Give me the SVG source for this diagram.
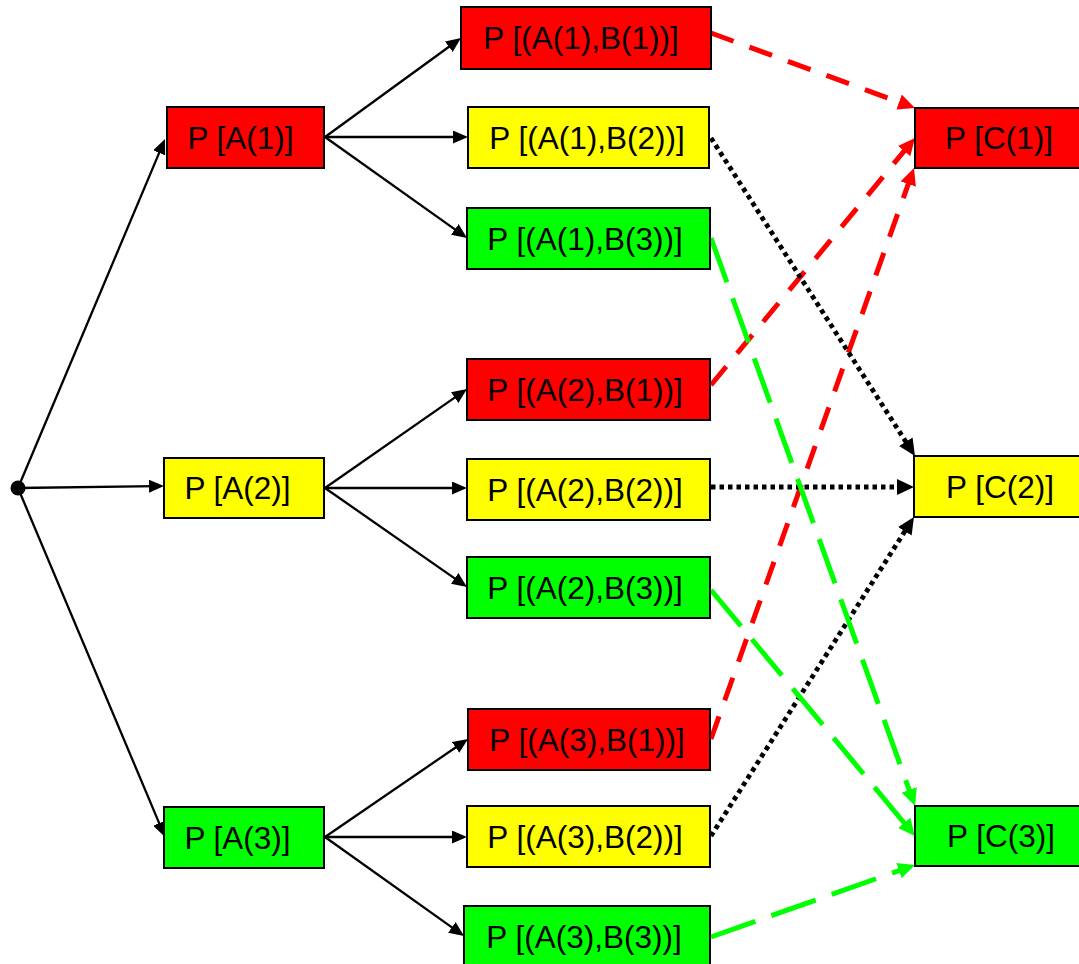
<svg xmlns="http://www.w3.org/2000/svg" width="1079" height="964" viewBox="0 0 1079 964">
<style>
.box{stroke:#000;stroke-width:2}
.r{fill:#FF0000}.y{fill:#FFFF00}.g{fill:#00FF00}
text{font-family:"Liberation Sans",Arial,sans-serif;font-size:31.5px;fill:#000;text-anchor:middle}
.sol{stroke:#000;stroke-width:2.3;fill:none;marker-end:url(#ak)}
.rd{stroke:#FF0000;stroke-width:5;fill:none;stroke-dasharray:24 17;marker-end:url(#ar)}
.kd{stroke:#000;stroke-width:4.8;fill:none;stroke-dasharray:4.5 4;marker-end:url(#ab)}
.gd{stroke:#00FF00;stroke-width:5;fill:none;stroke-dasharray:47 17;marker-end:url(#ag)}
</style>
<defs>
<marker id="ak" markerUnits="userSpaceOnUse" markerWidth="15" markerHeight="13" viewBox="0 0 15 13" refX="7" refY="6.5" orient="auto"><path d="M0,0 L15,6.5 L0,13 z" fill="#000"/></marker>
<marker id="ar" markerUnits="userSpaceOnUse" markerWidth="17" markerHeight="16" viewBox="0 0 17 16" refX="7" refY="8" orient="auto"><path d="M0,0 L17,8 L0,16 z" fill="#FF0000"/></marker>
<marker id="ab" markerUnits="userSpaceOnUse" markerWidth="17" markerHeight="16" viewBox="0 0 17 16" refX="7" refY="8" orient="auto"><path d="M0,0 L17,8 L0,16 z" fill="#000"/></marker>
<marker id="ag" markerUnits="userSpaceOnUse" markerWidth="17" markerHeight="16" viewBox="0 0 17 16" refX="7" refY="8" orient="auto"><path d="M0,0 L17,8 L0,16 z" fill="#00FF00"/></marker>
</defs>
<rect width="1079" height="964" fill="#fff"/>
<g id="connectors">
<line class="sol" x1="18" y1="488" x2="161.9" y2="146.4"/>
<line class="sol" x1="18" y1="488" x2="156" y2="486.1"/>
<line class="sol" x1="18" y1="488" x2="161.9" y2="829.6"/>
<line class="sol" x1="325" y1="137" x2="454.5" y2="42.7"/>
<line class="sol" x1="325" y1="137" x2="460" y2="137"/>
<line class="sol" x1="325" y1="137" x2="460.5" y2="233.4"/>
<line class="sol" x1="325" y1="488" x2="460.4" y2="393.6"/>
<line class="sol" x1="325" y1="488" x2="459" y2="488"/>
<line class="sol" x1="325" y1="488" x2="460.4" y2="582.4"/>
<line class="sol" x1="325" y1="837" x2="461.4" y2="743.5"/>
<line class="sol" x1="325" y1="837" x2="459" y2="837"/>
<line class="sol" x1="325" y1="837" x2="457.5" y2="931.4"/>
<line class="rd" x1="711" y1="33" x2="905.6" y2="104.5"/>
<line class="rd" x1="711" y1="385" x2="908.6" y2="145.7"/>
<line class="rd" x1="711" y1="739" x2="910.65" y2="177.4"/>
<line class="kd" x1="711" y1="138" x2="909.6" y2="447.6"/>
<line class="kd" x1="711" y1="487" x2="904" y2="487"/>
<line class="kd" x1="711" y1="836" x2="908.6" y2="525.4"/>
<line class="gd" x1="711" y1="238" x2="911.6" y2="796.6"/>
<line class="gd" x1="711" y1="590" x2="908.6" y2="828.3"/>
<line class="gd" x1="711" y1="937" x2="905.6" y2="868.3"/>
</g>
<g id="root"><circle cx="18" cy="488" r="7.5" fill="#000"/></g>
<g id="A1"><rect class="box r" x="167" y="107" width="157" height="61"/><text x="240.5" y="148.5">P [A(1)]</text></g>
<g id="A2"><rect class="box y" x="164" y="458" width="160" height="60"/><text x="237.5" y="499">P [A(2)]</text></g>
<g id="A3"><rect class="box g" x="164" y="807" width="160" height="61"/><text x="237.5" y="848.5">P [A(3)]</text></g>
<g id="B11"><rect class="box r" x="461" y="7" width="250" height="62"/><text x="581" y="48.5">P [(A(1),B(1))]</text></g>
<g id="B12"><rect class="box y" x="468" y="107" width="241" height="61"/><text x="587" y="148.5">P [(A(1),B(2))]</text></g>
<g id="B13"><rect class="box g" x="467" y="208" width="243" height="61"/><text x="585" y="249.5">P [(A(1),B(3))]</text></g>
<g id="B21"><rect class="box r" x="467" y="359" width="243" height="61"/><text x="585" y="400.5">P [(A(2),B(1))]</text></g>
<g id="B22"><rect class="box y" x="467" y="459" width="243" height="61"/><text x="585" y="500.5">P [(A(2),B(2))]</text></g>
<g id="B23"><rect class="box g" x="467" y="557" width="243" height="61"/><text x="585" y="598.5">P [(A(2),B(3))]</text></g>
<g id="B31"><rect class="box r" x="468" y="709" width="242" height="61"/><text x="587" y="750.5">P [(A(3),B(1))]</text></g>
<g id="B32"><rect class="box y" x="467" y="806" width="243" height="61"/><text x="585" y="847.5">P [(A(3),B(2))]</text></g>
<g id="B33"><rect class="box g" x="464" y="906" width="246" height="62"/><text x="584" y="947.5">P [(A(3),B(3))]</text></g>
<g id="C1"><rect class="box r" x="915" y="108" width="170" height="60"/><text x="999" y="149">P [C(1)]</text></g>
<g id="C2"><rect class="box y" x="914" y="456" width="170" height="61"/><text x="1000" y="497.5">P [C(2)]</text></g>
<g id="C3"><rect class="box g" x="915" y="806" width="170" height="60"/><text x="1001" y="847">P [C(3)]</text></g>
</svg>
